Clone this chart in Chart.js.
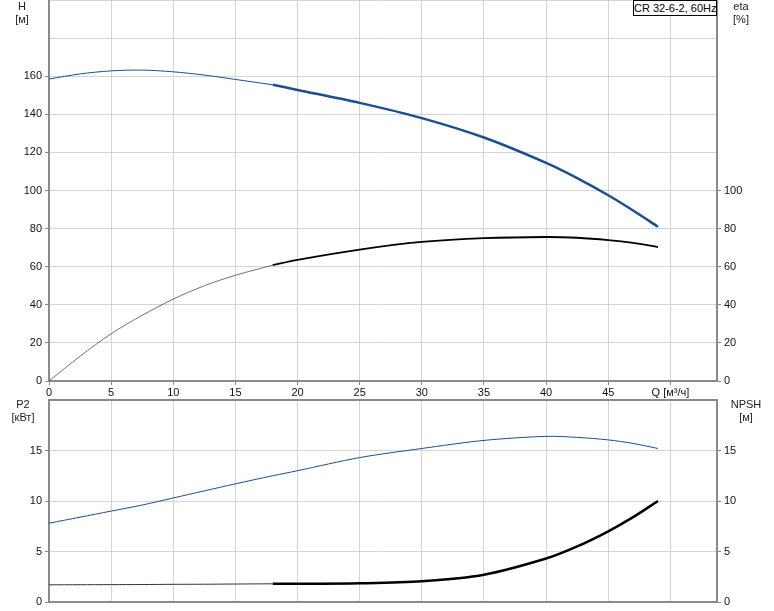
<!DOCTYPE html>
<html><head><meta charset="utf-8">
<script src="https://cdn.jsdelivr.net/npm/chart.js@4/dist/chart.umd.min.js"></script>
<style>
body{margin:0;background:#fff;width:774px;height:611px;position:relative;overflow:hidden;font-family:"Liberation Sans",Arial,sans-serif;}
canvas{position:absolute;left:0;}
.lbl{position:absolute;font-size:11px;color:#222;text-align:center;line-height:13px;}
#title{position:absolute;left:633px;top:0px;width:84px;height:16px;padding:0;white-space:nowrap;border:1px solid #000;background:#fff;font-size:11px;line-height:14px;text-align:center;color:#000;box-sizing:border-box;}
</style></head><body>
<canvas id="top" width="774" height="398" style="top:0"></canvas>
<canvas id="bot" width="774" height="213" style="top:398px"></canvas>
<div class="lbl" style="left:7px;top:0px;width:30px">H<br>[м]</div>
<div class="lbl" style="left:726px;top:0px;width:30px">eta<br>[%]</div>
<div class="lbl" style="left:4px;top:398px;width:38px">P2<br>[кВт]</div>
<div class="lbl" style="left:727px;top:398px;width:38px">NPSH<br>[м]</div>
<div id="title">CR 32-6-2, 60Hz</div>
<script>
const q     = [0, 2.5, 5, 7.5, 10, 12.5, 15, 18, 20, 25, 30, 35, 40, 42.5, 45, 47, 49];
const head  = [158.5, 161.2, 162.8, 163.2, 162.3, 160.6, 158.3, 155.5, 152.8, 146, 138, 127.8, 114.5, 106.5, 97.5, 89.5, 81];
const eta   = [0, 13, 24.8, 34.5, 43, 50, 55.5, 60.8, 63.6, 69, 73, 75, 75.6, 75.2, 74, 72.5, 70.3];
const p2    = [7.8, 8.4, 9.0, 9.6, 10.3, 11.0, 11.7, 12.5, 13.0, 14.3, 15.2, 16.0, 16.4, 16.3, 16.05, 15.7, 15.2];
const npsh  = [1.7, 1.71, 1.72, 1.73, 1.75, 1.76, 1.78, 1.8, 1.8, 1.85, 2.05, 2.7, 4.3, 5.5, 7.0, 8.4, 10.0];
const splitIdx = 7; // Q = 18: thin below, thick above
const xTicks = [0, 5, 10, 15, 20, 25, 30, 35, 40, 45, 50];
const hTicks = [0, 20, 40, 60, 80, 100, 120, 140, 160];
const etaTicks = [0, 20, 40, 60, 80, 100];
const lowTicks = [0, 5, 10, 15];

const pts = (ys, a, b) => q.slice(a, b).map((x, i) => ({x, y: ys[a + i]}));
const FONT = {family: '"Liberation Sans", Arial, sans-serif', size: 11};
const GRID = '#d4d4d4', AX = '#8a8a8a', BLUE = '#1b4f8f';
const ds = (data, color, w, axis) => ({data, borderColor: color, borderWidth: w, pointRadius: 0, fill: false,
  tension: 0.3, yAxisID: axis});

const xScale = (showLabels) => ({
  type: 'linear', min: 0, max: 53.75,
  afterBuildTicks: s => { s.ticks = xTicks.map(v => ({value: v})); },
  afterFit: s => { s.height = showLabels ? 17 : 2; s.paddingLeft = 0; s.paddingRight = 0; },
  grid: {color: GRID, lineWidth: 1, drawTicks: showLabels, tickLength: 4, tickColor: AX},
  border: {display: true, color: AX, width: 2},
  ticks: {display: showLabels, font: FONT, color: '#111', padding: 1, maxRotation: 0,
    callback: v => v === 50 ? 'Q [м³/ч]' : String(v)}
});
const yScale = (pos, max, labels, width, gridOn) => ({
  type: 'linear', position: pos, min: 0, max,
  afterBuildTicks: s => { const st = max === 200 ? 20 : 5; s.ticks = []; for (let v = 0; v <= max; v += st) s.ticks.push({value: v}); },
  afterFit: s => { s.width = width; s.paddingTop = 0; s.paddingBottom = 0; },
  grid: {display: true, drawOnChartArea: gridOn, color: GRID, lineWidth: 1, drawTicks: true, tickLength: 4,
    tickColor: c => (c.tick && labels.includes(c.tick.value)) ? AX : 'rgba(0,0,0,0)'},
  border: {display: true, color: AX, width: 2},
  ticks: {font: FONT, color: '#111', padding: 3, callback: v => labels.includes(v) ? String(v) : ''}
});

new Chart(document.getElementById('top'), {
  type: 'line',
  data: {datasets: [
    ds(pts(head, 0, splitIdx + 1), BLUE, 1, 'y'),
    ds(pts(head, splitIdx, q.length), BLUE, 2.5, 'y'),
    ds(pts(eta, 0, splitIdx + 1), '#333', 0.7, 'y2'),
    ds(pts(eta, splitIdx, q.length), '#000', 1.8, 'y2')
  ]},
  options: {animation: false, responsive: false, devicePixelRatio: 1,
    layout: {padding: 0},
    plugins: {legend: {display: false}, tooltip: {enabled: false}},
    scales: {x: xScale(true), y: yScale('left', 200, hTicks, 49, true), y2: yScale('right', 200, etaTicks, 57, false)}}
});

new Chart(document.getElementById('bot'), {
  type: 'line',
  data: {datasets: [
    ds(pts(p2, 0, q.length), BLUE, 1, 'y'),
    ds(pts(npsh, 0, splitIdx + 1), '#333', 1, 'y2'),
    ds(pts(npsh, splitIdx, q.length), '#000', 2.5, 'y2')
  ]},
  options: {animation: false, responsive: false, devicePixelRatio: 1,
    layout: {padding: {top: 2, bottom: 7}},
    plugins: {legend: {display: false}, tooltip: {enabled: false}},
    scales: {x: xScale(false), y: yScale('left', 20, lowTicks, 49, true), y2: yScale('right', 20, lowTicks, 57, false)}}
  ,
  plugins: [{id: 'topBorder', afterDraw(c) {
    const a = c.chartArea, ctx = c.ctx; ctx.save(); ctx.strokeStyle = AX; ctx.lineWidth = 2;
    ctx.beginPath(); ctx.moveTo(a.left, a.top); ctx.lineTo(a.right, a.top); ctx.stroke(); ctx.restore();
  }}]
});
</script>
</body></html>
